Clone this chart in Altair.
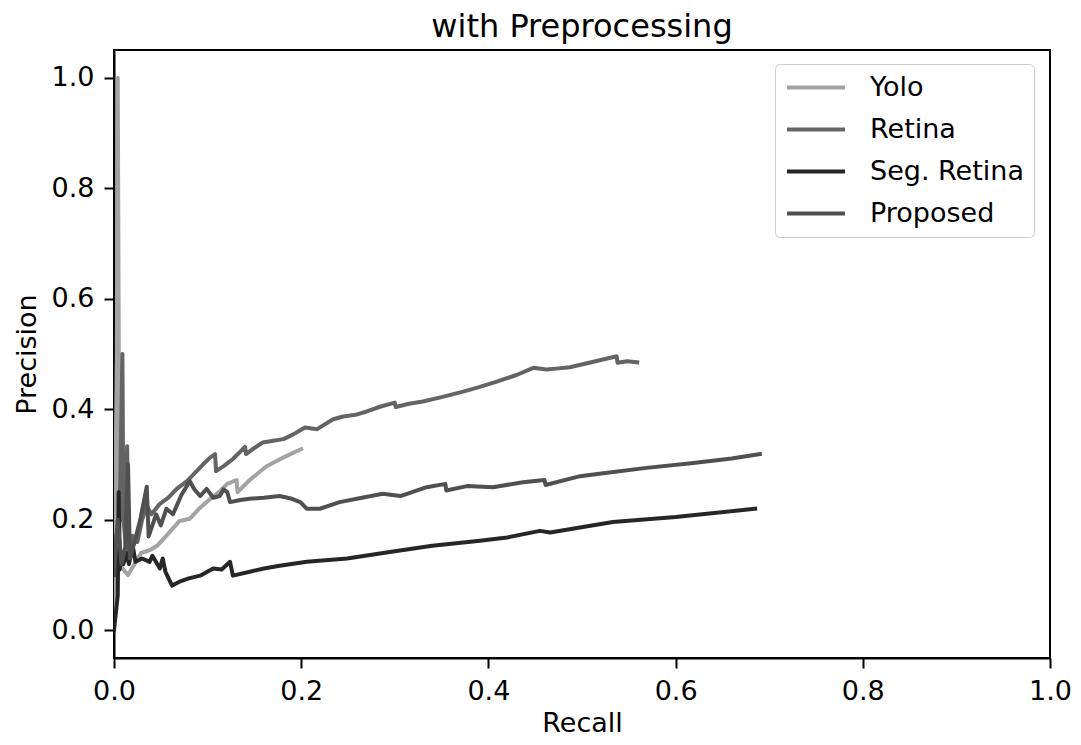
import altair as alt
import pandas as pd

series_names = ["Yolo", "Retina", "Seg. Retina", "Proposed"]
series_colors = ["#a3a3a3", "#646464", "#262626", "#505050"]

yolo_x = [0.0, 0.003, 0.004, 0.006, 0.010, 0.015, 0.022, 0.029, 0.038, 0.046, 0.058, 0.070, 0.081,
          0.092, 0.103, 0.112, 0.121, 0.131, 0.132, 0.145, 0.163, 0.180, 0.200]
yolo_y = [0.0, 0.5, 1.0, 0.12, 0.11, 0.10, 0.12, 0.14, 0.145, 0.153, 0.175, 0.198, 0.202,
          0.222, 0.238, 0.25, 0.265, 0.272, 0.25, 0.272, 0.297, 0.312, 0.328]

retina_x = [0.0, 0.006, 0.009, 0.010, 0.013, 0.014, 0.016, 0.020, 0.025, 0.030, 0.035, 0.040, 0.049,
            0.058, 0.067, 0.078, 0.087, 0.095, 0.103, 0.108, 0.109, 0.118, 0.127, 0.140, 0.141, 0.150,
            0.159, 0.170, 0.181, 0.192, 0.204, 0.217, 0.234, 0.245, 0.258, 0.270, 0.285, 0.300, 0.301,
            0.315, 0.330, 0.350, 0.373, 0.390, 0.409, 0.430, 0.448, 0.462, 0.475, 0.487, 0.510, 0.537,
            0.538, 0.548, 0.559]
retina_y = [0.15, 0.2, 0.5, 0.2, 0.15, 0.333, 0.13, 0.171, 0.16, 0.20, 0.225, 0.21, 0.229,
            0.24, 0.256, 0.27, 0.286, 0.30, 0.313, 0.319, 0.288, 0.298, 0.31, 0.332, 0.319, 0.33,
            0.34, 0.343, 0.346, 0.355, 0.367, 0.364, 0.382, 0.387, 0.39, 0.396, 0.405, 0.412, 0.404,
            0.41, 0.414, 0.422, 0.432, 0.44, 0.45, 0.462, 0.475, 0.472, 0.474, 0.476, 0.485, 0.496,
            0.484, 0.487, 0.485]

seg_x = [0.0, 0.004, 0.005, 0.006, 0.008, 0.010, 0.013, 0.016, 0.020, 0.023, 0.030, 0.038, 0.041,
         0.049, 0.052, 0.055, 0.062, 0.070, 0.080, 0.092, 0.106, 0.115, 0.124, 0.127, 0.145, 0.160,
         0.177, 0.206, 0.249, 0.300, 0.340, 0.391, 0.420, 0.455, 0.466, 0.533, 0.600, 0.685]
seg_y = [0.0, 0.063, 0.25, 0.11, 0.13, 0.12, 0.14, 0.12, 0.153, 0.124, 0.13, 0.124, 0.135,
         0.112, 0.13, 0.106, 0.081, 0.088, 0.094, 0.099, 0.112, 0.11, 0.124, 0.099, 0.106, 0.112,
         0.117, 0.124, 0.13, 0.143, 0.153, 0.162, 0.168, 0.18, 0.177, 0.196, 0.205, 0.22]

prop_x = [0.0, 0.004, 0.008, 0.012, 0.015, 0.017, 0.022, 0.028, 0.035, 0.037, 0.045, 0.050, 0.056,
          0.063, 0.072, 0.081, 0.086, 0.092, 0.099, 0.106, 0.113, 0.117, 0.121, 0.124, 0.135, 0.145,
          0.160, 0.177, 0.190, 0.199, 0.206, 0.220, 0.241, 0.265, 0.287, 0.306, 0.334, 0.354, 0.355,
          0.377, 0.405, 0.437, 0.460, 0.461, 0.498, 0.527, 0.569, 0.619, 0.660, 0.690]
prop_y = [0.10, 0.2, 0.12, 0.15, 0.30, 0.13, 0.16, 0.20, 0.26, 0.17, 0.21, 0.19, 0.22,
          0.21, 0.245, 0.27, 0.255, 0.243, 0.256, 0.24, 0.243, 0.255, 0.25, 0.232, 0.236, 0.238,
          0.24, 0.243, 0.238, 0.232, 0.22, 0.22, 0.232, 0.24, 0.247, 0.243, 0.259, 0.265, 0.253,
          0.261, 0.259, 0.268, 0.272, 0.263, 0.279, 0.285, 0.294, 0.303, 0.311, 0.319]

rows = []
for name, xs, ys in zip(series_names, [yolo_x, retina_x, seg_x, prop_x], [yolo_y, retina_y, seg_y, prop_y]):
    for i, (xv, yv) in enumerate(zip(xs, ys)):
        rows.append({"Model": name, "Recall": xv, "Precision": yv, "i": i})
df = pd.DataFrame(rows)

FONT = "DejaVu Sans"
TICKS = [0, 0.2, 0.4, 0.6, 0.8, 1.0]

chart = alt.Chart(df).mark_line(strokeWidth=4, strokeJoin="round", strokeCap="square", clip=True).encode(
    x=alt.X("Recall:Q", scale=alt.Scale(domain=[0, 1], nice=False, zero=False),
            axis=alt.Axis(values=TICKS, format=".1f", title="Recall", labelPadding=10, titlePadding=6)),
    y=alt.Y("Precision:Q", scale=alt.Scale(domain=[-0.05, 1.05], nice=False, zero=False),
            axis=alt.Axis(values=TICKS, format=".1f", title="Precision", labelPadding=10, titlePadding=10)),
    color=alt.Color("Model:N", scale=alt.Scale(domain=series_names, range=series_colors),
                    legend=alt.Legend(title=None, orient="none", legendX=661, legendY=14,
                                      symbolType="stroke", symbolSize=3364, symbolStrokeWidth=4,
                                      labelFontSize=27, labelFont=FONT, labelColor="black",
                                      clipHeight=27, rowPadding=14, labelOffset=23,
                                      strokeColor="#cccccc", cornerRadius=5, padding=10,
                                      fillColor="white", symbolOpacity=1, labelLimit=400)),
    order="i:Q",
).properties(
    width=936, height=608,
    title=alt.TitleParams("with Preprocessing", fontSize=32, font=FONT, fontWeight="normal",
                          color="black", offset=6),
    autosize=alt.AutoSizeParams(type="none"),
    padding={"left": 106, "top": 42, "right": 22, "bottom": 78},
).configure_view(
    stroke="black", strokeWidth=2
).configure_axis(
    grid=False, domainColor="black", domainWidth=2, tickColor="black", tickWidth=2, tickSize=10,
    labelFont=FONT, labelFontSize=27, labelColor="black", labelFlush=False,
    titleFont=FONT, titleFontSize=27, titleFontWeight="normal", titleColor="black"
)

chart.save("out.html", embed_options={"renderer": "svg", "actions": False})
